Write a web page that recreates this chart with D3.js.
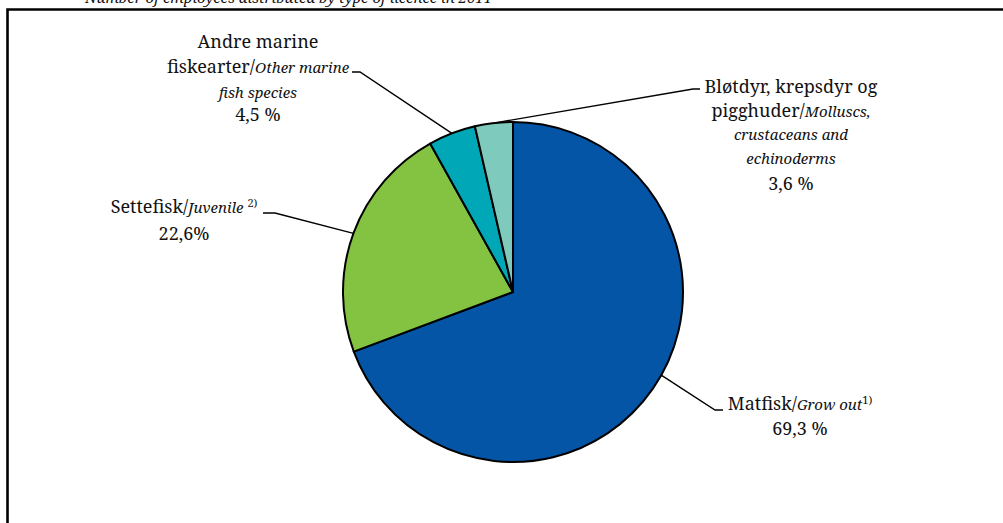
<!DOCTYPE html>
<html><head><meta charset="utf-8">
<script src="https://cdn.jsdelivr.net/npm/d3@7"></script>
<style>
html,body{margin:0;padding:0;background:#fff;}
svg{display:block;}
</style></head>
<body>
<script>
// ---- data ----
const categories = ["Matfisk", "Settefisk", "Andre marine fiskearter", "Bløtdyr, krepsdyr og pigghuder"];
const shares = [69.3, 22.6, 4.5, 3.6];
const pctLabels = ["69,3 %", "22,6%", "4,5 %", "3,6 %"];
const colors = ["#0455A5", "#83C341", "#00A7B6", "#7ECBBD"];
const title = "Number of employees distributed by type of licence in 2011";

// label text lines: segments {t, it, sup}
const labelLines = [
  [[{t:"Matfisk/"},{t:"Grow out",it:true},{t:"1)",sup:true}], [{t:pctLabels[0]}]],
  [[{t:"Settefisk/"},{t:"Juvenile ",it:true},{t:"2)",sup:true}], [{t:pctLabels[1]}]],
  [[{t:"Andre marine"}], [{t:"fiskearter/"},{t:"Other marine",it:true}], [{t:"fish species",it:true}], [{t:pctLabels[2]}]],
  [[{t:"Bløtdyr, krepsdyr og"}], [{t:"pigghuder/"},{t:"Molluscs,",it:true}], [{t:"crustaceans and",it:true}], [{t:"echinoderms",it:true}], [{t:pctLabels[3]}]]
];

// ---- layout ----
const W = 1003, H = 523;
const cx = 513, cy = 292, R = 170;
const FONT = "Noto Serif";
const labelLayout = [
  {x:800, ys:[410,435], elbow:[[723,410],[715,410]], attach:119.3},
  {x:184, ys:[213,240], elbow:[[263,213],[275,213]], attach:null},
  {x:258, ys:[48,73,98,121], elbow:[[352,72],[360,72]], attach:null},
  {x:791, ys:[93,117,140,164,190], elbow:[[700,89],[693,89]], attach:null}
];

const svg = d3.select("body").append("svg").attr("width", W).attr("height", H)
  .attr("font-family", FONT);

// frame
svg.append("path").attr("d", `M7.5,${H+5} L7.5,9.5 L1003,9.5`)
  .attr("fill","none").attr("stroke","#000").attr("stroke-width",2.6);

// clipped title (cut off at top as in the reference)
svg.append("text").attr("x",85).attr("y",3).attr("font-style","italic")
  .attr("font-family", FONT).attr("fill","#111")
  .attr("font-size",15).text(title);

const pie = d3.pie().sort(null).value(d => d);
const arcs = pie(shares);
const arc = d3.arc().innerRadius(0).outerRadius(R);
const edge = d3.arc().innerRadius(R).outerRadius(R);

const g = svg.append("g").attr("transform", `translate(${cx},${cy})`);
g.selectAll("path.slice").data(arcs).join("path")
  .attr("class","slice")
  .attr("d", arc)
  .attr("fill", (d,i) => colors[i])
  .attr("stroke","#000").attr("stroke-width",2)
  .attr("stroke-linejoin","round");

// leader lines
arcs.forEach((d,i) => {
  const L = labelLayout[i];
  let p;
  if (L.attach !== null) {
    const a = L.attach * Math.PI/180;
    p = edge.centroid({startAngle:a, endAngle:a});
  } else {
    p = edge.centroid(d);
  }
  const pts = [L.elbow[0], L.elbow[1], [cx+p[0], cy+p[1]]];
  svg.append("path").attr("d", d3.line()(pts))
    .attr("fill","none").attr("stroke","#000").attr("stroke-width",1.4);
});

// labels
labelLines.forEach((lines,i) => {
  const L = labelLayout[i];
  lines.forEach((segs,j) => {
    const t = svg.append("text").attr("x",L.x).attr("y",L.ys[j])
      .attr("text-anchor","middle").attr("font-size",18)
      .attr("font-family", FONT).attr("fill","#111");
    segs.forEach(s => {
      const ts = t.append("tspan").text(s.t);
      if (s.it) ts.attr("font-style","italic").attr("font-size",15);
      if (s.sup) ts.attr("font-size",11).attr("dy",-6);
    });
  });
});
</script>
</body></html>
